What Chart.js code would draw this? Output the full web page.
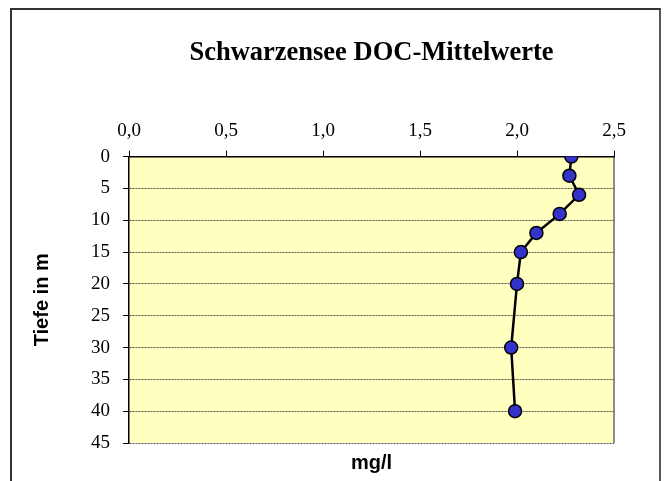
<!DOCTYPE html>
<html>
<head>
    <title>Schwarzensee DOC-Mittelwerte</title>
    <script src="https://cdn.jsdelivr.net/npm/chart.js"></script>
    <style>
        html, body { margin: 0; padding: 0; background: #fff; overflow: hidden; }
        #wrap { position: relative; width: 664px; height: 481px; }
        #frame { position: absolute; left: 10px; top: 8px; width: 647px; height: 490px;
                 border-left: 2px solid #333; border-top: 2px solid #333; border-right: 2px solid #555; }
        #myChart { position: absolute; left: 0; top: 0; }
    </style>
</head>
<body>
    <div id="wrap">
        <div id="frame"></div>
        <canvas id="myChart" width="664" height="481"></canvas>
    </div>

    <script>
        // Tiefe (m) und DOC-Mittelwert (mg/l)
        var depths = [0, 3, 6, 9, 12, 15, 20, 30, 40];
        var docMean = [2.28, 2.27, 2.32, 2.22, 2.10, 2.02, 2.00, 1.97, 1.99];

        var xTicks = [0, 0.5, 1.0, 1.5, 2.0, 2.5];
        var yTicks = [0, 5, 10, 15, 20, 25, 30, 35, 40, 45];

        var serif = '"Liberation Serif", "Times New Roman", serif';
        var sans = '"Liberation Sans", Arial, sans-serif';

        // yellow plot area + grey right edge
        var plotBg = {
            id: 'plotBg',
            beforeDraw: function(chart) {
                var a = chart.chartArea, ctx = chart.ctx;
                ctx.save();
                ctx.fillStyle = '#FFFFC0';
                ctx.fillRect(a.left, a.top, a.right - a.left, a.bottom - a.top);
                ctx.strokeStyle = '#8c8c8c';
                ctx.lineWidth = 2;
                ctx.beginPath();
                ctx.moveTo(a.right, a.top);
                ctx.lineTo(a.right, a.bottom);
                ctx.stroke();
                ctx.restore();
            }
        };

        var points = depths.map(function(d, i) { return { x: docMean[i], y: d }; });

        var ctx = document.getElementById('myChart').getContext('2d');
        var chart = new Chart(ctx, {
            type: 'scatter',
            data: {
                datasets: [{
                    label: 'DOC',
                    data: points,
                    showLine: true,
                    borderColor: '#000',
                    borderWidth: 2.5,
                    pointBackgroundColor: '#3333CC',
                    pointBorderColor: '#000',
                    pointBorderWidth: 1.5,
                    pointRadius: 6.5,
                    pointHoverRadius: 6.5
                }]
            },
            plugins: [plotBg],
            options: {
                responsive: false,
                animation: false,
                layout: { padding: { left: 27, right: 50, top: 0, bottom: 0 } },
                plugins: {
                    legend: { display: false },
                    tooltip: { enabled: false },
                    title: {
                        display: true,
                        text: 'Schwarzensee DOC-Mittelwerte',
                        fullSize: false,
                        color: '#000',
                        font: { family: serif, size: 26.5, weight: 'bold' },
                        padding: { top: 37, bottom: 43 }
                    },
                    subtitle: {
                        display: true,
                        position: 'bottom',
                        text: 'mg/l',
                        fullSize: false,
                        color: '#000',
                        font: { family: sans, size: 20, weight: 'bold' },
                        padding: { top: 8, bottom: 6 }
                    }
                },
                scales: {
                    x: {
                        type: 'linear',
                        position: 'top',
                        min: 0,
                        max: 2.5,
                        afterBuildTicks: function(scale) {
                            scale.ticks = xTicks.map(function(v) { return { value: v }; });
                        },
                        ticks: {
                            color: '#000',
                            padding: 8,
                            font: { family: serif, size: 19 },
                            callback: function(v) { return v.toFixed(1).replace('.', ','); }
                        },
                        grid: { drawOnChartArea: false, tickLength: 6, tickColor: '#000' },
                        border: { color: '#000', width: 1.5 }
                    },
                    y: {
                        type: 'linear',
                        reverse: true,
                        min: 0,
                        max: 45,
                        afterBuildTicks: function(scale) {
                            scale.ticks = yTicks.map(function(v) { return { value: v }; });
                        },
                        afterFit: function(scale) { scale.width = 102; },
                        ticks: {
                            color: '#000',
                            padding: 13,
                            font: { family: serif, size: 19 }
                        },
                        grid: { color: '#555', lineWidth: 1, tickLength: 6, tickColor: '#000' },
                        border: { color: '#000', width: 1.5, dash: [2, 1] },
                        title: {
                            display: true,
                            text: 'Tiefe in m',
                            color: '#000',
                            font: { family: sans, size: 20, weight: 'bold' },
                            padding: { top: 3, bottom: 4 }
                        }
                    }
                }
            }
        });
    </script>
</body>
</html>
